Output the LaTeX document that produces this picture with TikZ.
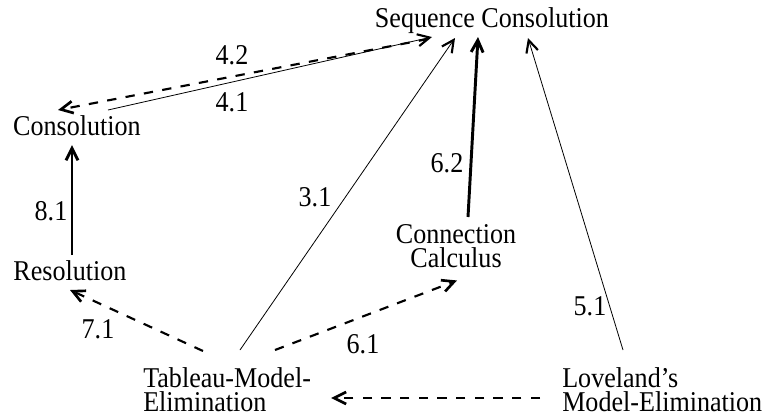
\documentclass[tikz,border=0pt]{standalone}
\usepackage{fontspec}
\setmainfont[FakeStretch=0.91]{Liberation Serif}
\usetikzlibrary{arrows.meta,calc}

\begin{document}
\begin{tikzpicture}[x=0.75pt,y=-0.75pt,>={Straight Barb[length=9pt,width=9pt]},
        lbl/.style={inner sep=0pt, font=\fontsize{21.5pt}{18.5pt}\selectfont},
        thinline/.style={-{Straight Barb[length=9pt,width=9pt,line width=1.6pt]}, line width=0.6pt},
        thickline/.style={->, line width=2.2pt},
        dashline/.style={-{Straight Barb[length=9pt,width=9pt,line width=2pt]}, line width=1.6pt, dash pattern=on 7pt off 7pt}]
        \useasboundingbox (0,0) rectangle (771,419);

        % Nodes
        \node (seq) [lbl, anchor=base] at (492,27) {Sequence Consolution};
        \node (cons) [lbl, anchor=base] at (77,135) {Consolution};
        \node (res) [lbl, anchor=base] at (70,280) {Resolution};
        \node (conn) [lbl, anchor=north, align=center] at (456,224) {Connection\\Calculus};
        \node (tab) [lbl, anchor=north west, align=left] at (143,367) {Tableau-Model-\\Elimination};
        \node (love) [lbl, anchor=north west, align=left] at (562,367) {Loveland's\\Model-Elimination};

        % Arrows
        \draw[thinline] ($(cons.base)+(31,-25)$) -- ($(seq.base)+(-60,10)$);
        \draw[dashline] ($(seq.base)+(-64,12)$) -- ($(cons.base)+(-19,-25)$);
        \draw[thinline] ($(tab.north west)+(97,-17)$) -- ($(seq.base)+(-37,11)$);
        \draw[thickline] ($(conn.north)+(12,-7)$) -- ($(seq.base)+(-14,10)$);
        \draw[thinline] ($(love.north west)+(61,-17)$) -- ($(seq.base)+(36,11)$);
        \draw[thickline] ($(res.base)+(2,-25)$) -- ($(cons.base)+(-5,10)$);
        \draw[dashline] ($(tab.north west)+(60,-16)$) -- ($(res.base)+(0,10)$);
        \draw[dashline] ($(tab.north west)+(132,-17)$) -- ($(conn.south)+(1,12)$);
        \draw[dashline] ($(love.north west)+(-22,31)$) -- ($(tab.north east)+(20,31)$);

        % Labels
        \node (l42) [lbl] at (232,55) {4.2};
        \node (l41) [lbl] at (232,102) {4.1};
        \node (l31) [lbl] at (315,197) {3.1};
        \node (l62) [lbl] at (447,163) {6.2};
        \node (l81) [lbl] at (51,211) {8.1};
        \node (l71) [lbl] at (98,329) {7.1};
        \node (l61) [lbl] at (363,344) {6.1};
        \node (l51) [lbl] at (590,306) {5.1};

    \end{tikzpicture}
\end{document}
